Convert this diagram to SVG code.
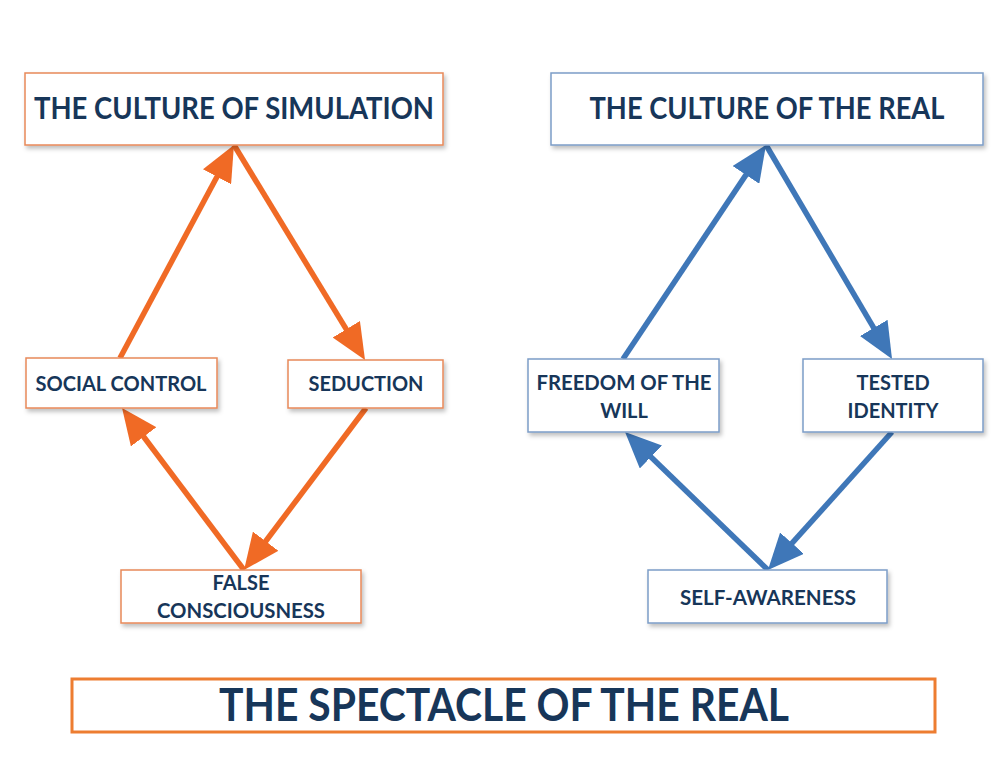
<svg xmlns="http://www.w3.org/2000/svg" width="1008" height="768" viewBox="0 0 1008 768">
<defs>
<filter id="sh" x="-5%" y="-10%" width="115%" height="130%">
<feDropShadow dx="2" dy="3" stdDeviation="2" flood-color="#000" flood-opacity="0.25"/>
</filter>
<marker id="ao" markerUnits="userSpaceOnUse" markerWidth="36" markerHeight="32" refX="6" refY="16" orient="auto">
<path d="M0,0 L36,16 L0,32 z" fill="#F06A25"/>
</marker>
<marker id="ab" markerUnits="userSpaceOnUse" markerWidth="36" markerHeight="32" refX="6" refY="16" orient="auto">
<path d="M0,0 L36,16 L0,32 z" fill="#3F77B8"/>
</marker>
</defs>
<style>
.bo{fill:#fff;stroke:#E8895A;stroke-width:1.5;filter:url(#sh)}
.bb{fill:#fff;stroke:#7C9DC7;stroke-width:1.5;filter:url(#sh)}
.t{font-family:Lato,"Open Sans","Liberation Sans",sans-serif;font-weight:bold;fill:#173659;text-anchor:middle}
.big{font-size:30px}
.sm{font-size:20px}
.lo{stroke:#F06A25;stroke-width:5.5;fill:none;marker-end:url(#ao)}
.lb{stroke:#3F77B8;stroke-width:5.5;fill:none;marker-end:url(#ab)}
</style>
<rect width="1008" height="768" fill="#fff"/>
<g id="connectors">
<line class="lo" x1="120" y1="358" x2="219.8" y2="171.5"/>
<line class="lo" x1="234" y1="145" x2="349.4" y2="334.4"/>
<line class="lo" x1="366" y1="408" x2="262.1" y2="546"/>
<line class="lo" x1="244" y1="570" x2="140.1" y2="432"/>
<line class="lb" x1="623" y1="359" x2="749.3" y2="169.9"/>
<line class="lb" x1="766" y1="145" x2="876.8" y2="333.1"/>
<line class="lb" x1="892" y1="432" x2="788" y2="547.7"/>
<line class="lb" x1="768" y1="570" x2="646.6" y2="452.8"/>
</g>
<g id="culture-simulation">
<rect class="bo" x="25" y="73" width="418" height="72"/>
<text class="t big" x="234" y="119" textLength="400" lengthAdjust="spacingAndGlyphs">THE CULTURE OF SIMULATION</text>
</g>
<g id="culture-real">
<rect class="bb" x="551" y="73" width="432" height="72"/>
<text class="t big" x="767" y="119" textLength="355" lengthAdjust="spacingAndGlyphs">THE CULTURE OF THE REAL</text>
</g>
<g id="social-control">
<rect class="bo" x="26" y="358" width="191" height="50"/>
<text class="t sm" x="121" y="391" textLength="171" lengthAdjust="spacingAndGlyphs">SOCIAL CONTROL</text>
</g>
<g id="seduction">
<rect class="bo" x="288" y="360" width="155" height="48"/>
<text class="t sm" x="366" y="391" textLength="115" lengthAdjust="spacingAndGlyphs">SEDUCTION</text>
</g>
<g id="freedom">
<rect class="bb" x="528" y="359" width="191" height="73"/>
<text class="t sm" x="624" y="390" textLength="175" lengthAdjust="spacingAndGlyphs">FREEDOM OF THE</text>
<text class="t sm" x="624" y="418">WILL</text>
</g>
<g id="tested-identity">
<rect class="bb" x="803" y="359" width="180" height="73"/>
<text class="t sm" x="893" y="390">TESTED</text>
<text class="t sm" x="893" y="418">IDENTITY</text>
</g>
<g id="false-consciousness">
<rect class="bo" x="121" y="570" width="240" height="53"/>
<text class="t sm" x="241" y="590">FALSE</text>
<text class="t sm" x="241" y="618" textLength="168" lengthAdjust="spacingAndGlyphs">CONSCIOUSNESS</text>
</g>
<g id="self-awareness">
<rect class="bb" x="648" y="570" width="239" height="53"/>
<text class="t sm" x="768" y="605" textLength="176" lengthAdjust="spacingAndGlyphs">SELF-AWARENESS</text>
</g>
<g id="spectacle">
<rect x="72" y="679" width="863" height="53" fill="#fff" stroke="#ED7D31" stroke-width="3"/>
<text class="t" x="504" y="721" font-size="45" textLength="570" lengthAdjust="spacingAndGlyphs">THE SPECTACLE OF THE REAL</text>
</g>
</svg>
